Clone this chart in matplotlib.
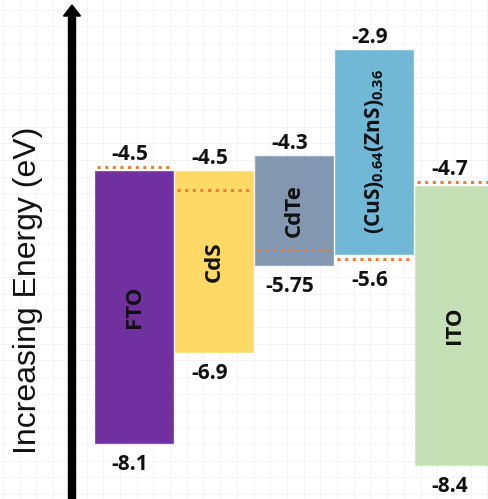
import numpy as np
import matplotlib
matplotlib.use("Agg")
import matplotlib.pyplot as plt
from matplotlib.patches import FancyArrow

plt.rcParams['mathtext.fontset'] = 'custom'
plt.rcParams['mathtext.rm'] = 'Open Sans:bold'
plt.rcParams['mathtext.it'] = 'Open Sans:bold'
plt.rcParams['mathtext.bf'] = 'Open Sans:bold'

# band edges of each layer (eV)
layers = ['FTO', 'CdS', 'CdTe', r'(CuS)$_{0.64}$(ZnS)$_{0.36}$', 'ITO']
top_ev = [-4.5, -4.5, -4.3, -2.9, -4.7]
bottom_ev = [-8.1, -6.9, -5.75, -5.6, -8.4]
top_text = ['-4.5', '-4.5', '-4.3', '-2.9', '-4.7']
bottom_text = ['-8.1', '-6.9', '-5.75', '-5.6', '-8.4']
fermi_ev = [-4.45, -4.75, -5.55, -5.67, -4.65]
colors = ['#7030A0', '#FFD966', '#8497B0', '#70B8D6', '#C5E0B4']
edges = ['#8A55B5', '#FFE08A', '#9AAAC0', '#8CC6DE', '#D2E7C4']

fig = plt.figure(figsize=(4.89, 4.99), dpi=100)

# faint background grid
bg = fig.add_axes([0, 0, 1, 1], zorder=-5)
bg.set_xlim(0, 489)
bg.set_ylim(0, 499)
bg.set_xticks(np.arange(3, 489, 16.7))
bg.set_yticks(np.arange(5, 499, 16.7))
bg.grid(True, color='#f3f3f3', lw=0.6)
bg.tick_params(length=0, labelbottom=False, labelleft=False)
for s in bg.spines.values():
    s.set_visible(False)

ax = fig.add_axes([0, 0, 1, 1])
ax.patch.set_alpha(0)
ax.set_xlim(-1.675, 4.4375)
ax.set_ylim(-8.847, -2.238)
ax.axis('off')

x = np.arange(len(layers))
heights = np.array(top_ev) - np.array(bottom_ev)
ax.bar(x, heights, bottom=bottom_ev, width=0.975, color=colors,
       edgecolor=edges, linewidth=0.8, zorder=2)

for i in x:
    # fermi level
    ax.plot([i - 0.46, i + 0.46], [fermi_ev[i], fermi_ev[i]], color='#ED7D31',
            lw=2.2, ls=(0, (1, 1.5)), zorder=3)
    hi = max(top_ev[i], fermi_ev[i])
    lo = min(bottom_ev[i], fermi_ev[i])
    ax.annotate(top_text[i], (i, hi), xytext=(-3, 5), textcoords='offset points',
                ha='center', va='baseline', fontsize=15, fontweight='bold',
                family='Open Sans', color='#111111', zorder=4)
    ax.annotate(bottom_text[i], (i, lo), xytext=(-3, -8), textcoords='offset points',
                ha='center', va='top', fontsize=15, fontweight='bold',
                family='Open Sans', color='#111111', zorder=4)
    size = 15 if i == 3 else 16
    ax.text(i, (top_ev[i] + bottom_ev[i]) / 2, layers[i], rotation=90,
            ha='center', va='center', fontsize=size, fontweight='bold',
            family='Open Sans', color='#111111', zorder=4)

# energy axis arrow
arrow = FancyArrow(0.72, -0.1, 0, 5.04, width=0.07, head_width=0.17,
                   head_length=0.11, length_includes_head=True,
                   color='black', transform=fig.dpi_scale_trans)
fig.patches.append(arrow)
fig.text(28 / 489, 1 - 290 / 499, 'Increasing Energy (eV)', rotation=90,
         ha='center', va='center', fontsize=23, family='Liberation Sans',
         color='#111111')

fig.savefig('out.png', dpi=100)
